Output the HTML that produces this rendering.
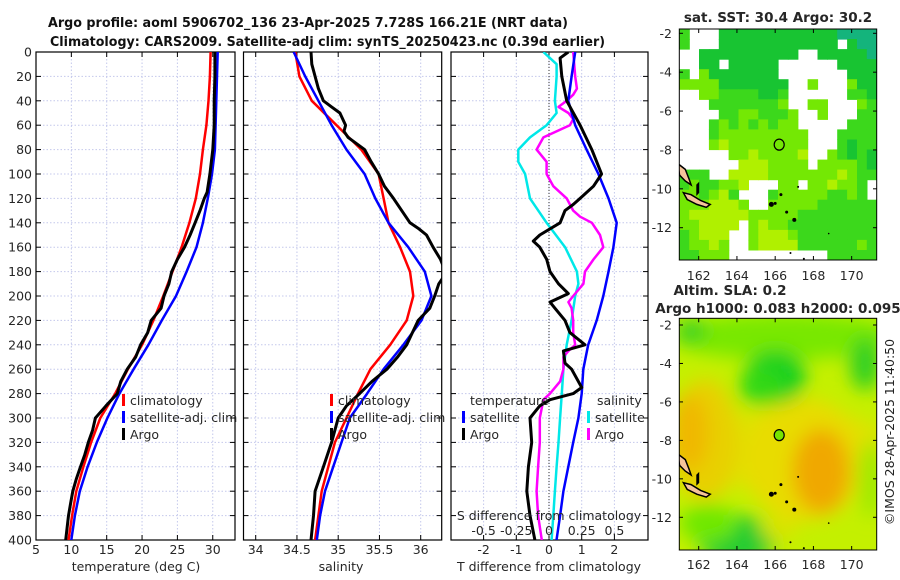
<!DOCTYPE html>
<html><head><meta charset="utf-8"><style>
html,body{margin:0;padding:0;background:#fff;}
svg{display:block;font-family:"DejaVu Sans","Liberation Sans",sans-serif;}
</style></head><body>
<svg id="fig" width="900" height="580" viewBox="0 0 900 580" xmlns="http://www.w3.org/2000/svg">
<defs>
<clipPath id="c1"><rect x="36" y="52" width="199" height="488"/></clipPath>
<clipPath id="c2"><rect x="243.5" y="52" width="198.2" height="488"/></clipPath>
<clipPath id="c3"><rect x="451" y="52" width="197" height="488"/></clipPath>
<clipPath id="cm1"><rect x="679.3" y="29" width="197.4" height="231"/></clipPath>
<clipPath id="cm2"><rect x="679.3" y="318.3" width="197.4" height="231.7"/></clipPath>
<filter id="blur" x="-50%" y="-50%" width="200%" height="200%"><feGaussianBlur stdDeviation="9"/></filter>
</defs>
<text x="48" y="27" text-anchor="start" textLength="520" lengthAdjust="spacingAndGlyphs" font-weight="bold" font-size="13" fill="#111">Argo profile: aoml 5906702_136 23-Apr-2025 7.728S 166.21E (NRT data)</text>
<text x="50" y="46" text-anchor="start" textLength="555" lengthAdjust="spacingAndGlyphs" font-weight="bold" font-size="13" fill="#111">Climatology: CARS2009. Satellite-adj clim: synTS_20250423.nc (0.39d earlier)</text>
<g id="g1"></g>
<g id="g2"></g>
<g id="g3"></g>
<g id="m1"></g>
<g id="m2"></g>
<text transform="translate(894,432) rotate(-90)" text-anchor="middle" font-size="12.5" fill="#222">©IMOS 28-Apr-2025 11:40:50</text>
</svg>
<script>
// ---- data ----
const depthGrid = [0,20,40,60,80,100,120,140,160,180,200,220,240,260,280,300,320,340,360,380,400];
const tempClim = [29.7,29.6,29.4,29.1,28.6,28.2,27.6,26.7,25.6,24.3,23.0,21.6,20.0,18.0,16.2,14.1,12.8,11.7,10.7,10.1,9.6];
const tempSat = [30.7,30.6,30.5,30.4,30.3,29.9,29.3,28.6,27.7,26.3,24.8,22.8,20.9,18.8,16.8,15.1,13.6,12.3,11.2,10.5,10.0];
const tempArgoDepth = [0,10,20,40,60,80,100,115,120,130,140,150,160,170,180,190,200,210,220,230,240,250,260,270,280,290,300,310,320,330,340,350,360,370,380,390,400];
const tempArgo = [30.3,30.3,30.3,30.2,30.2,30.0,29.6,29.2,28.8,28.2,27.5,26.8,26.0,25.0,24.2,23.8,23.1,22.7,21.3,20.8,19.8,19.1,17.9,17.0,16.5,14.9,13.4,13.0,12.4,11.9,11.3,10.7,10.2,9.9,9.6,9.4,9.2];
const salClim = [34.48,34.53,34.68,34.98,35.28,35.49,35.55,35.61,35.75,35.87,35.91,35.83,35.63,35.39,35.24,35.10,34.96,34.88,34.80,34.76,34.72];
const salSat = [34.46,34.60,34.76,34.92,35.10,35.32,35.45,35.61,35.85,36.05,36.13,36.01,35.79,35.55,35.35,35.14,35.04,34.94,34.84,34.78,34.74];
const salArgoDepth = [0,10,20,30,40,45,50,60,65,70,80,90,100,110,120,130,140,145,150,160,170,175,180,185,190,200,210,220,230,240,250,260,270,280,290,300,320,340,360,380,400];
const salArgo = [34.67,34.68,34.72,34.76,34.82,34.92,35.02,35.09,35.07,35.12,35.32,35.40,35.49,35.56,35.67,35.77,35.87,35.98,36.07,36.15,36.24,36.27,36.30,36.27,36.22,36.17,36.11,35.97,35.90,35.83,35.72,35.59,35.41,35.26,35.10,35.00,34.92,34.82,34.72,34.70,34.67];
const tDiffSat = [0.8,0.69,0.59,0.8,1.15,1.51,1.82,2.07,1.97,1.82,1.66,1.46,1.2,1.05,1.0,0.9,0.74,0.59,0.44,0.34,0.23];
const tDiffArgoDepth = [0,5,20,40,60,80,100,110,120,125,130,140,150,155,160,170,180,190,198,205,210,220,230,240,245,255,260,275,280,285,290,300,320,340,360,380,400];
const tDiffArgo = [0.59,0.34,0.39,0.54,0.95,1.31,1.61,1.36,0.95,0.74,0.49,0.34,-0.28,-0.48,-0.28,-0.07,0.03,0.29,0.59,0.03,0.18,0.49,0.64,1.10,0.44,0.49,0.69,1.0,0.74,0.03,-0.28,-0.58,-0.53,-0.63,-0.68,-0.58,-0.43];
const sDiffSatDepth = [0,10,20,40,50,60,70,80,90,100,120,140,160,180,190,200,220,240,260,280,300,320,340,360,380,400];
const sDiffSat = [-0.043,0.058,0.058,0.045,0.058,-0.018,-0.145,-0.235,-0.235,-0.183,-0.145,-0.018,0.123,0.213,0.225,0.2,0.173,0.135,0.11,0.098,0.085,0.073,0.058,0.045,0.033,0.02];
const sDiffArgoDepth = [0,20,30,35,40,45,50,55,60,70,80,90,100,110,120,130,135,140,150,160,170,180,190,200,205,210,220,230,240,245,250,260,270,280,285,300,320,340,360,380,400];
const sDiffArgo = [0.185,0.2,0.213,0.185,0.135,0.073,0.148,0.185,0.16,-0.043,-0.095,-0.018,-0.018,0.033,0.135,0.185,0.238,0.328,0.39,0.415,0.34,0.275,0.263,0.185,0.148,0.173,0.185,0.185,0.2,0.148,0.11,0.11,0.085,0.008,-0.043,-0.07,-0.07,-0.083,-0.095,-0.083,-0.055];
const depthTicks = [0,20,40,60,80,100,120,140,160,180,200,220,240,260,280,300,320,340,360,380,400];
const tempTicks = [5,10,15,20,25,30];
const salTicks = [34,34.5,35,35.5,36];
const tDiffTicks = [-2,-1,0,1,2];
const sDiffTicks = [-0.5,-0.25,0,0.25,0.5];
const sDiffTickLabels = ["-0.5","-0.25","0","0.25","0.5"];

// ---- scales ----
const TOP=52, BOT=540;
const y = d => TOP + d*(BOT-TOP)/400;
const xT = t => 36 + (t-5)*7.07;
const xS = s => 255.7 + (s-34)*82.5;
const xD = v => 549 + v*32.7;
const xSD = s => xD(s*4);

const NS="http://www.w3.org/2000/svg";
function mk(tag, attrs, parent){const e=document.createElementNS(NS,tag);for(const k in attrs)e.setAttribute(k,attrs[k]);parent.appendChild(e);return e;}
function txt(parent,x0,y0,s,anchor,size,name){const t=mk('text',{x:x0,y:y0,'text-anchor':anchor||'middle','font-size':size||12,fill:'#262626'},parent);t.textContent=s;


return t;}

function panel(g, L, R, xs, ticks, showY, cid){
  ticks.forEach(v=>{const l=mk('line',{x1:xs(v),x2:xs(v),y1:TOP,y2:BOT,stroke:'#c4c8ec','stroke-width':1,'stroke-dasharray':'1.5,2'},g);
    
    });
  depthTicks.forEach(d=>{const l=mk('line',{x1:L,x2:R,y1:y(d),y2:y(d),stroke:'#c4c8ec','stroke-width':1,'stroke-dasharray':'1.5,2'},g);
    
    
    mk('line',{x1:L,x2:L+5,y1:y(d),y2:y(d),stroke:'#000'},g); mk('line',{x1:R,x2:R-5,y1:y(d),y2:y(d),stroke:'#000'},g);
    if(showY) txt(g,L-4,y(d)+4.5,String(d),'end',12.5,'y-tick-label');});
  ticks.forEach(v=>{mk('line',{x1:xs(v),x2:xs(v),y1:BOT,y2:BOT-5,stroke:'#000'},g);mk('line',{x1:xs(v),x2:xs(v),y1:TOP,y2:TOP+5,stroke:'#000'},g);});
  const f=mk('rect',{x:L,y:TOP,width:R-L,height:BOT-TOP,fill:'none',stroke:'#000','stroke-width':1.2},g);
  
  
}
function line(g, xs, depths, vals, color, w, cid, name){
  const pts=depths.map((d,i)=>xs(vals[i]).toFixed(1)+','+y(d).toFixed(1)).join(' ');
  const p=mk('polyline',{points:pts,fill:'none',stroke:color,'stroke-width':w,'stroke-linejoin':'round','clip-path':'url(#'+cid+')'},g);
  
  
}
function legend(g, x0, y0, items){
  items.forEach((it,i)=>{const yy=y0+i*17;
    const r=mk('rect',{x:x0,y:yy-10,width:3,height:12,fill:it[1]},g);
    
    
    txt(g,x0+8,yy+1,it[0],'start',12.5,'legend-entry');});
}

// panel 1
const g1=document.getElementById('g1');
panel(g1,36,235,xT,tempTicks,true,'c1');
tempTicks.forEach(v=>txt(g1,xT(v),554,String(v),'middle',12.5,'x-tick-label'));
txt(g1,136,571,'temperature (deg C)','middle',12.5,'x-axis-title');
line(g1,xT,depthGrid,tempClim,'#ff0000',2.5,'c1','temp-climatology-line');
line(g1,xT,depthGrid,tempSat,'#0000ff',2.5,'c1','temp-satellite-line');
line(g1,xT,tempArgoDepth,tempArgo,'#000',3,'c1','temp-argo-line');
legend(g1,122,404,[['climatology','#ff0000'],['satellite-adj. clim','#0000ff'],['Argo','#000']]);

// panel 2
const g2=document.getElementById('g2');
panel(g2,243.5,441.7,xS,salTicks,false,'c2');
salTicks.forEach(v=>txt(g2,xS(v),554,String(v),'middle',12.5,'x-tick-label'));
txt(g2,341,571,'salinity','middle',12.5,'x-axis-title');
line(g2,xS,depthGrid,salClim,'#ff0000',2.5,'c2','sal-climatology-line');
line(g2,xS,depthGrid,salSat,'#0000ff',2.5,'c2','sal-satellite-line');
line(g2,xS,salArgoDepth,salArgo,'#000',3,'c2','sal-argo-line');
legend(g2,330,404,[['climatology','#ff0000'],['satellite-adj. clim','#0000ff'],['Argo','#000']]);

// panel 3
const g3=document.getElementById('g3');
panel(g3,451,648,xD,tDiffTicks,false,'c3');
const zl=mk('line',{x1:xD(0),x2:xD(0),y1:TOP,y2:BOT,stroke:'#333','stroke-width':1,'stroke-dasharray':'1,2'},g3);


tDiffTicks.forEach(v=>txt(g3,xD(v),554,String(v),'middle',12.5,'x-tick-label'));
txt(g3,549,571,'T difference from climatology','middle',12.5,'x-axis-title');
line(g3,xSD,sDiffSatDepth,sDiffSat,'#00e8e8',2.5,'c3','sal-diff-satellite-line');
line(g3,xSD,sDiffArgoDepth,sDiffArgo,'#ff00ff',2.5,'c3','sal-diff-argo-line');
line(g3,xD,depthGrid,tDiffSat,'#0000ff',2.5,'c3','temp-diff-satellite-line');
line(g3,xD,tDiffArgoDepth,tDiffArgo,'#000',3,'c3','temp-diff-argo-line');
txt(g3,549,520,'S difference from climatology','middle',12.5,'s-axis-title');
sDiffTicks.forEach((v,i)=>txt(g3,xSD(v),535,sDiffTickLabels[i],'middle',12.5,'s-tick-label'));
txt(g3,470,405,'temperature','start',12.5,'legend-heading');
txt(g3,597,405,'salinity','start',12.5,'legend-heading');
legend(g3,462,421,[['satellite','#0000ff'],['Argo','#000']]);
legend(g3,587,421,[['satellite','#00e8e8'],['Argo','#ff00ff']]);

// ---- maps ----
const lonTicks=[162,164,166,168,170];
const latTicks=[-2,-4,-6,-8,-10,-12];
const lx = l => 698.7 + (l-162)*19.12;
const ly1 = la => 33.3 + (-2-la)*19.44;
const ly2 = la => 325 + (-2-la)*19.23;
function mapFrame(g, top, bot, ly, labY){
  mk('rect',{x:679.3,y:top,width:197.4,height:bot-top,fill:'none',stroke:'#000','stroke-width':1},g);
  latTicks.forEach(v=>{mk('line',{x1:679.3,x2:683,y1:ly(v),y2:ly(v),stroke:'#000'},g);mk('line',{x1:876.7,x2:873,y1:ly(v),y2:ly(v),stroke:'#000'},g);txt(g,672,ly(v)+4.5,String(v),'end',12.5,'map-lat-label');});
  lonTicks.forEach(v=>{mk('line',{x1:lx(v),x2:lx(v),y1:bot,y2:bot-4,stroke:'#000'},g);mk('line',{x1:lx(v),x2:lx(v),y1:top,y2:top+4,stroke:'#000'},g);txt(g,lx(v),labY,String(v),'middle',12.5,'map-lon-label');});
}
function islands(g, ly, cid){
  const gg=mk('g',{'clip-path':'url(#'+cid+')'},g);
  
  
  const P=a=>a.map(p=>lx(p[0]).toFixed(1)+','+ly(p[1]).toFixed(1)).join(' ');
  mk('polygon',{points:P([[160.9,-8.7],[161.3,-9.0],[161.5,-9.5],[161.6,-9.8],[161.3,-9.6],[161.0,-9.3]]),fill:'#f6c49a',stroke:'#000','stroke-width':1.5},gg);
  mk('polygon',{points:P([[161.2,-10.2],[161.6,-10.3],[162.1,-10.6],[162.6,-10.8],[162.4,-10.95],[161.9,-10.8],[161.4,-10.55]]),fill:'#f6c49a',stroke:'#000','stroke-width':1.5},gg);
  mk('polygon',{points:P([[161.9,-9.8],[162.0,-9.7],[162.0,-10.2],[161.9,-10.3]]),fill:'#000',stroke:'#000','stroke-width':1},gg);
  [[165.8,-10.8,2.5],[166.3,-10.3,1.5],[166.6,-11.2,1.5],[167,-11.6,2],[167.2,-9.9,1],[166.8,-13.3,1],[167.5,-13.6,1],[168.8,-12.3,0.8],[166.0,-10.75,1.5]].forEach(d=>mk('circle',{cx:lx(d[0]),cy:ly(d[1]),r:d[2],fill:'#000'},gg));
}
const sstRows=[
"GWWWDDDDDDDDDDDDTTTT","GWWWDDDDDDDDDDDDWDTT","WWDDDDDDDDDDWWDDDDDT","WWDDWDDDDDWWWWWWDDDD",
"GWLDDDDDDDWWWWWWWDDD","LLLLDDDDDDDWWLWWWLDD","WWLLGGGGDDGWWWWWWGGD","WWWGGGGGGGLWWLLWWWLG",
"WWWWGGLLGGGLWWLWWWGG","WWWGLGLGLGLLWWWWWGGG","WWWGLLLLLLLLLWWWGGGG","WWWLYLLLLLLLLWWWGDGG",
"WWWWWLLYLLLLYWWLGDGD","WWWWWWYYYLLLLWLLLLGD","GGGWWYYYYLLLLLLLYLGG","GLGGLLYWWWLLWLLYLLGW",
"LLGLYGWWWGLLLLLGGLGW","LLLYYYLWWLLLLLGGGGGG","LYYYYYYLLLLLGGGGGGGG","LLYYYYWLYLLGGGGGGGGG",
"GLYYYWWLYYYLGGGGGGGG","GLLYLWWLYYYYGGGGGGLG","GGLLLWWWWWWWWWWGGGGG"];
const sstColors={D:'#18c432',G:'#3cd81c',L:'#74e804',Y:'#b0f000',T:'#14b47c',W:'#ffffff'};
const m1=document.getElementById('m1');
const mc1=mk('g',{'clip-path':'url(#cm1)'},m1);


const cw=197.4/20, ch=231/23;
sstRows.forEach((row,r)=>{for(let c=0;c<20;c++){const k=row[c]; if(k==='W')continue;
  mk('rect',{x:(679.3+c*cw).toFixed(1),y:(29+r*ch).toFixed(1),width:(cw+0.6).toFixed(1),height:(ch+0.6).toFixed(1),fill:sstColors[k]},mc1);}});
islands(m1,ly1,'cm1');
const fc1=mk('ellipse',{cx:lx(166.21),cy:ly1(-7.728),rx:5,ry:5.5,fill:'none',stroke:'#000','stroke-width':1.2},m1);


mapFrame(m1,29,260,ly1,280);
txt(m1,778,22,'sat. SST: 30.4 Argo: 30.2','middle',13.5,'sst-map-title').setAttribute('font-weight','bold');

const m2=document.getElementById('m2');
const mc2=mk('g',{'clip-path':'url(#cm2)'},m2);


mk('rect',{x:679.3,y:318.3,width:197.4,height:231.7,fill:'#c4f000'},mc2);
const bl=mk('g',{filter:'url(#blur)'},mc2);
const E=(lo,la,rxd,ryd,col)=>mk('ellipse',{cx:lx(lo),cy:ly2(la),rx:rxd*19.1,ry:ryd*19.2,fill:col},bl);
E(166.5,-2.6,6,1.2,'#78e800');
E(166.5,-8.5,6,2.2,'#dce400');
E(162.3,-8,1.8,3.2,'#e8d000');
E(161.5,-7.6,1,2,'#f0b800');
E(167.5,-9,3.2,3.2,'#e8dc00');
E(168.4,-9.6,1.5,2.2,'#f0a800');
E(166,-4.7,1.6,1.4,'#18d020');
E(165.3,-5.2,1.2,1,'#30d818');
E(164,-13.2,2,1.3,'#20cc30');
E(162.5,-12.3,1.5,1,'#70e800');
E(170.7,-4,0.8,1.4,'#30d020');
E(161.6,-2.3,0.8,0.6,'#30d020');
E(171,-10,0.7,2,'#a0ea00');
E(166.2,-12.6,1,0.6,'#d8e400');
islands(m2,ly2,'cm2');
const fc2=mk('ellipse',{cx:lx(166.21),cy:ly2(-7.728),rx:5,ry:5.5,fill:'#78e400',stroke:'#000','stroke-width':1.2},m2);


mapFrame(m2,318.3,550,ly2,569);
txt(m2,730,295,'Altim. SLA: 0.2','middle',13.5,'sla-map-title').setAttribute('font-weight','bold');
txt(m2,778,313,'Argo h1000: 0.083 h2000: 0.095','middle',13.5,'sla-map-subtitle').setAttribute('font-weight','bold');
</script>
</body></html>
